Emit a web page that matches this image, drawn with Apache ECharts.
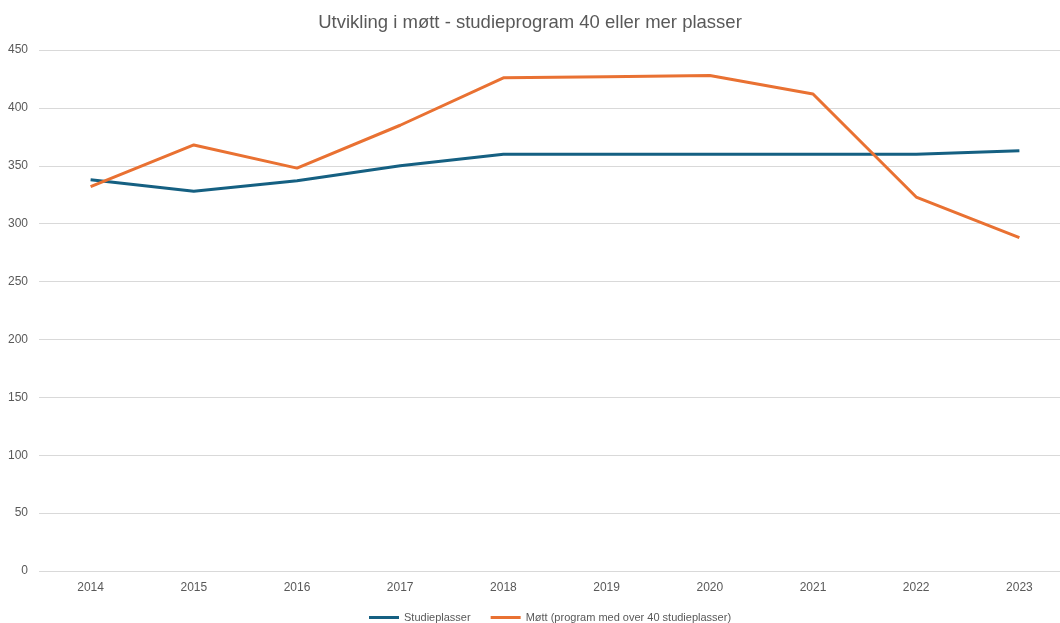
<!DOCTYPE html>
<html>
<head>
<meta charset="utf-8">
<script src="https://cdn.jsdelivr.net/npm/echarts@6/dist/echarts.min.js"></script>
<style>
  html, body { margin: 0; padding: 0; background: #fff; }
  #chart { width: 1060px; height: 623px; }
</style>
</head>
<body>
<div id="chart"></div>
<script>
var years = ['2014', '2015', '2016', '2017', '2018', '2019', '2020', '2021', '2022', '2023'];
var studieplasser = [338, 328, 337, 350, 360, 360, 360, 360, 360, 363];
var mott = [332, 368, 348, 385, 426, 427, 428, 412, 323, 288];

var font = '"Liberation Sans", sans-serif';

var myChart = echarts.init(document.getElementById('chart'));
var option = {
    title: {
        text: 'Utvikling i møtt - studieprogram 40 eller mer plasser',
        left: 'center',
        top: 8,
        textStyle: { color: '#595959', fontSize: 18.5, fontWeight: 'normal', fontFamily: font }
    },
    legend: {
        top: 612,
        left: 369,
        itemWidth: 30,
        itemHeight: 3,
        itemGap: 20,
        icon: 'rect',
        padding: 0,
        textStyle: { color: '#595959', fontSize: 11, fontFamily: font },
        data: ['Studieplasser', 'Møtt (program med over 40 studieplasser)']
    },
    grid: {
        left: 39,
        width: 1032,
        top: 50,
        bottom: 52,
        outerBoundsMode: 'none'
    },
    xAxis: {
        type: 'category',
        boundaryGap: true,
        data: years,
        axisLine: { show: false },
        axisTick: { show: false },
        axisLabel: { color: '#595959', fontSize: 12, fontFamily: font, margin: 11 }
    },
    yAxis: {
        type: 'value',
        min: 0,
        max: 450,
        interval: 50,
        axisLine: { show: false },
        axisTick: { show: false },
        axisLabel: { color: '#595959', fontSize: 12, fontFamily: font, margin: 11 },
        splitLine: { lineStyle: { color: '#d9d9d9', width: 1 } }
    },
    series: [
        {
            name: 'Studieplasser',
            type: 'line',
            data: studieplasser,
            symbol: 'none',
            color: '#156082',
            lineStyle: { width: 3, color: '#156082' }
        },
        {
            name: 'Møtt (program med over 40 studieplasser)',
            type: 'line',
            data: mott,
            symbol: 'none',
            color: '#E97132',
            lineStyle: { width: 3, color: '#E97132' }
        }
    ]
};
myChart.setOption(option);
</script>
</body>
</html>
